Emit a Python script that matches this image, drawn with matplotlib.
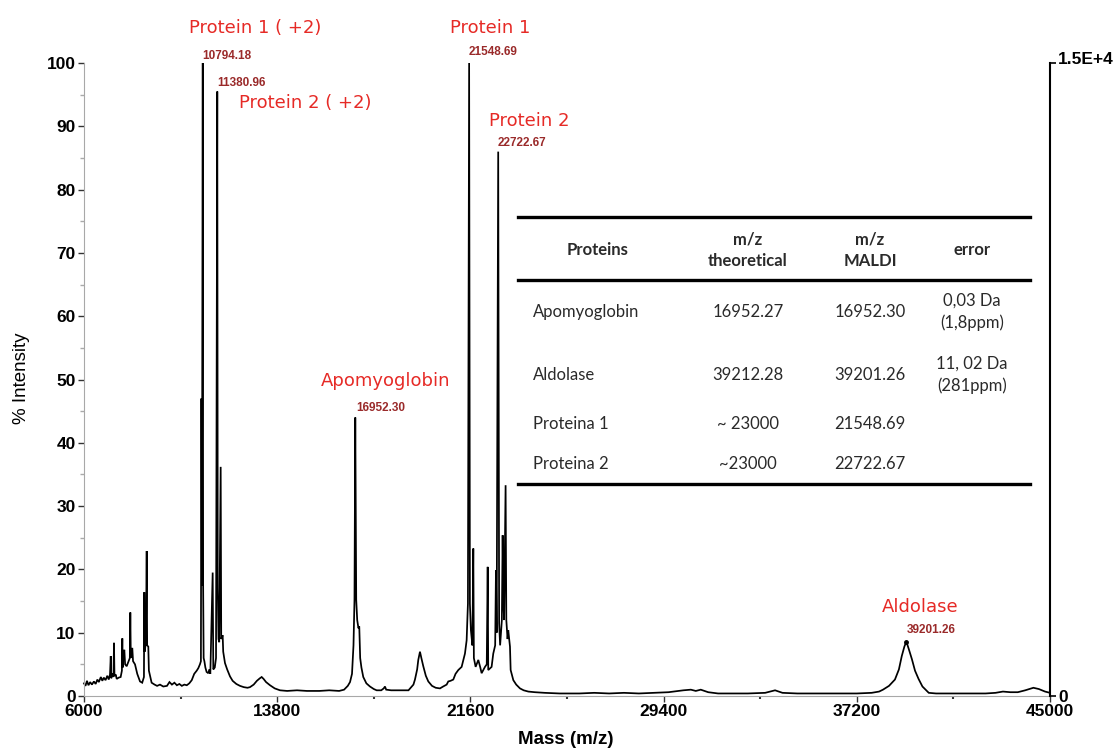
import matplotlib
matplotlib.use("Agg")
import matplotlib.pyplot as plt
import numpy as np
from matplotlib.lines import Line2D
from matplotlib.ticker import FixedLocator
from matplotlib.transforms import ScaledTranslation

# ---------------- data ----------------
mass_mz = [
    6000, 6060, 6120, 6180, 6250, 6320, 6400, 6470, 6540, 6600, 6680, 6740, 6800, 6870, 6940,
    7000, 7050, 7080, 7100, 7150, 7190, 7211, 7230, 7280, 7320, 7400, 7480, 7530, 7547, 7560,
    7600, 7628, 7660, 7723, 7800, 7850, 7870, 7890, 7950, 7980, 8059, 8150, 8261, 8350, 8420,
    8435, 8450, 8500, 8531, 8550, 8596, 8620, 8730, 8850, 8950, 9068, 9200, 9350, 9450, 9550,
    9650, 9750, 9850, 9950, 10050, 10150, 10250, 10350, 10450, 10550, 10615, 10680, 10720, 10740, 10760,
    10794.18, 10810, 10830, 10860, 10900, 10950, 11018, 11060, 11100, 11195, 11220, 11280, 11330, 11380.96, 11400,
    11430, 11460, 11518, 11540, 11598, 11620, 11692, 11780, 11894, 12000, 12150, 12298, 12450, 12600, 12701,
    12850, 12980, 13100, 13173, 13250, 13350, 13509, 13700, 13913, 14200, 14600, 15000, 15500, 15900, 16300,
    16500, 16650, 16740, 16820, 16880, 16920, 16952.30, 16990, 17030, 17080, 17113, 17150, 17200, 17275, 17400,
    17545, 17700, 17815, 18000, 18100, 18151, 18200, 18400, 18800, 19100, 19300, 19362, 19450, 19496, 19564,
    19620, 19698, 19800, 19900, 20050, 20200, 20372, 20500, 20641, 20707, 20800, 20909, 21000, 21111, 21246,
    21380, 21448, 21500, 21548.69, 21580, 21620, 21680, 21717, 21740, 21811, 21919, 22000, 22053, 22188, 22260,
    22298, 22320, 22456, 22523, 22600, 22632, 22660, 22722.67, 22760, 22800, 22834, 22870, 22902, 22930, 22960,
    23021, 23050, 23100, 23128, 23198, 23225, 23333, 23450, 23602, 23750, 23939, 24200, 24600, 25200, 26000,
    26600, 27200, 27800, 28400, 29000, 29600, 30200, 30500, 30700, 30900, 31200, 31600, 32200, 32800, 33500,
    33900, 34200, 34800, 35600, 36400, 37200, 37800, 38100, 38257, 38500, 38740, 38900, 39015, 39120, 39201.26,
    39300, 39426, 39550, 39693, 39850, 40105, 40400, 41000, 41800, 42400, 42800, 43100, 43400, 43700, 44000,
    44330, 44550, 44800, 45000,
]
intensity_pct = [
    2.0, 1.6, 2.4, 1.7, 2.2, 1.8, 2.3, 1.9, 2.6, 2.2, 3.0, 2.4, 2.9, 2.5, 3.2,
    2.6, 3.4, 6.3, 2.8, 3.6, 3.0, 8.4, 3.2, 3.4, 2.7, 2.9, 3.0, 4.0, 9.1, 4.5,
    6.8, 7.3, 5.0, 4.7, 5.5, 6.0, 13.2, 6.0, 7.6, 5.5, 5.0, 3.5, 2.3, 2.1, 3.0,
    16.4, 7.0, 8.5, 22.9, 8.0, 7.8, 4.0, 2.1, 1.8, 1.6, 1.8, 1.5, 1.6, 2.2, 1.8,
    2.1, 1.7, 1.9, 1.6, 1.8, 1.7, 2.0, 2.5, 3.5, 4.0, 4.4, 5.0, 5.5, 47.0, 17.5,
    100.0, 17.5, 6.0, 5.5, 4.5, 3.8, 3.6, 4.2, 3.5, 19.5, 4.2, 4.5, 6.0, 95.5, 17.0,
    9.0, 8.5, 36.2, 9.0, 9.6, 7.0, 5.2, 4.2, 3.1, 2.4, 1.9, 1.6, 1.4, 1.3, 1.4,
    1.8, 2.4, 2.8, 3.0, 2.7, 2.2, 1.7, 1.2, 0.9, 0.8, 0.9, 0.8, 0.8, 0.9, 0.8,
    1.0, 1.6, 2.2, 3.5, 8.0, 15.2, 44.0, 15.2, 12.0, 10.7, 11.0, 6.0, 4.5, 3.0, 2.0,
    1.5, 1.1, 0.9, 0.9, 1.2, 1.5, 1.0, 0.9, 0.9, 0.9, 1.8, 2.6, 4.2, 5.7, 7.0,
    6.0, 4.7, 3.2, 2.3, 1.6, 1.3, 1.2, 1.5, 1.8, 2.3, 2.4, 2.6, 3.5, 4.1, 4.6,
    6.7, 8.8, 14.6, 100.0, 14.6, 10.4, 8.0, 23.3, 6.0, 4.6, 5.7, 4.5, 3.6, 4.6, 5.0,
    20.4, 4.1, 4.6, 6.7, 8.0, 19.9, 10.0, 86.0, 11.5, 8.0, 9.9, 12.0, 25.4, 15.0, 12.0,
    33.3, 12.0, 9.0, 10.4, 7.8, 4.1, 2.5, 1.8, 1.2, 0.9, 0.7, 0.6, 0.5, 0.4, 0.4,
    0.5, 0.4, 0.5, 0.4, 0.5, 0.6, 0.9, 1.0, 0.8, 1.0, 0.6, 0.4, 0.4, 0.4, 0.5,
    0.9, 0.5, 0.4, 0.4, 0.4, 0.4, 0.5, 0.7, 1.0, 1.6, 2.6, 4.2, 6.3, 7.8, 8.6,
    7.4, 5.8, 4.0, 2.7, 1.5, 0.5, 0.4, 0.4, 0.4, 0.4, 0.5, 0.7, 0.6, 0.6, 0.9,
    1.3, 1.1, 0.7, 0.5,
]

peak_mz = [10794.18, 11380.96, 16952.30, 21548.69, 22722.67, 39201.26]
peak_value_labels = ["10794.18", "11380.96", "16952.30", "21548.69", "22722.67", "39201.26"]
peak_names = ["Protein 1 ( +2)", "Protein 2 ( +2)", "Apomyoglobin", "Protein 1", "Protein 2", "Aldolase"]

x_ticks = [6000, 13800, 21600, 29400, 37200, 45000]
x_minor_ticks = [9900, 17700, 25500, 33300, 41100]
y_ticks = [0, 10, 20, 30, 40, 50, 60, 70, 80, 90, 100]
y_minor_ticks = [5, 15, 25, 35, 45, 55, 65, 75, 85, 95]
right_ticks = [0, 15000]
right_tick_labels = ["0", "1.5E+4"]

table_header = ["Proteins", "m/z\ntheoretical", "m/z\nMALDI", "error"]
table_proteins = ["Apomyoglobin", "Aldolase", "Proteina 1", "Proteina 2"]
table_theoretical = ["16952.27", "39212.28", "~ 23000", "~23000"]
table_maldi = ["16952.30", "39201.26", "21548.69", "22722.67"]
table_error = ["0,03 Da\n(1,8ppm)", "11, 02 Da\n(281ppm)", "", ""]

# ---------------- figure ----------------
W, H = 1117, 749
fig = plt.figure(figsize=(W / 100, H / 100), dpi=100)
fig.patch.set_facecolor("white")


def fp(x, y):
    return x / W, 1 - y / H


ax = fig.add_axes([84 / W, 53 / H, 966 / W, 633 / H])
ax.plot(mass_mz, intensity_pct, color="black", lw=1.25, clip_on=False, solid_joinstyle="miter")
ax.set_xlim(6000, 45000)
ax.set_ylim(0, 100)

for s in ["top", "right"]:
    ax.spines[s].set_visible(False)
ax.spines["left"].set_color("#a8a8a8")
ax.spines["bottom"].set_color("#a8a8a8")

ax.xaxis.set_major_locator(FixedLocator(x_ticks))
ax.xaxis.set_minor_locator(FixedLocator(x_minor_ticks))
ax.yaxis.set_major_locator(FixedLocator(y_ticks))
ax.yaxis.set_minor_locator(FixedLocator(y_minor_ticks))
ax.set_xticklabels([str(t) for t in x_ticks], fontsize=12.5, fontweight="bold", family="Liberation Sans")
ax.set_yticklabels([str(t) for t in y_ticks], fontsize=12.5, fontweight="bold", family="Liberation Sans")
ax.tick_params(axis="y", which="major", direction="out", length=4, width=1, color="#333333", pad=2)
ax.tick_params(axis="y", which="minor", direction="out", length=3, width=1, color="#aaaaaa")
ax.tick_params(axis="x", which="major", direction="out", length=4, width=1, color="#333333", pad=2)
ax.tick_params(axis="x", which="minor", direction="out", length=2, width=1.5, color="#333333")

ax2 = ax.twinx()
ax2.set_ylim(0, 15000)
ax2.set_yticks(right_ticks)
ax2.set_yticklabels(right_tick_labels, fontsize=12.5, fontweight="bold", family="Liberation Sans")
for s in ["top", "left", "bottom"]:
    ax2.spines[s].set_visible(False)
ax2.spines["right"].set_color("black")
ax2.spines["right"].set_linewidth(1.5)
ax2.tick_params(axis="y", direction="out", length=4, width=1.2, color="black", pad=2)
top_lbl = ax2.get_yticklabels()[-1]
top_lbl.set_transform(top_lbl.get_transform() + ScaledTranslation(0, 5 / 100, fig.dpi_scale_trans))

fig.text(*fp(566, 740), "Mass (m/z)", ha="center", va="center", fontsize=13.5,
         fontweight="bold", family="Liberation Sans")
fig.text(*fp(22, 378), "% Intensity", ha="center", va="center", rotation=90, fontsize=13.5,
         family="Liberation Sans")

# ---------------- peak labels ----------------
red = "#e62a26"
dark_red = "#9a2a2a"
name_offsets = [(52, 35), (88, -12), (30, 36), (21, 35), (31, 31), (14, 35)]
value_offsets = [(0, 7), (0, 8), (1, 9), (-1, 11), (-1, 9), (0, 12)]
for mz, vlab, name, no, vo in zip(peak_mz, peak_value_labels, peak_names, name_offsets, value_offsets):
    h = float(np.interp(mz, mass_mz, intensity_pct))
    ax.annotate(vlab, xy=(mz, h), xytext=vo, textcoords="offset pixels", ha="left", va="center",
                fontsize=8.5, fontweight="bold", color=dark_red, family="Liberation Sans",
                annotation_clip=False)
    ax.annotate(name, xy=(mz, h), xytext=no, textcoords="offset pixels", ha="center", va="center",
                fontsize=13, color=red, family="DejaVu Sans", annotation_clip=False)
ax.plot([peak_mz[-1]], [float(np.interp(peak_mz[-1], mass_mz, intensity_pct))], "o",
        color="black", ms=2.5)

# ---------------- table ----------------
tfont = dict(family="Lato", fontsize=12, color="#2a2a2a")
for y in [217, 280, 484]:
    x0, y0 = fp(518, y)
    x1, _ = fp(1030, y)
    fig.add_artist(Line2D([x0, x1], [y0, y0], color="black", lw=2.4))

col_x = [598, 748, 870, 972]
header_y = 250
for cx, txt in zip(col_x, table_header):
    fig.text(*fp(cx, header_y), txt, ha="center", va="center", fontweight="bold",
             linespacing=1.45, **tfont)

row_y = [312, 375, 424, 464]
for ry, p, th, md, er in zip(row_y, table_proteins, table_theoretical, table_maldi, table_error):
    fig.text(*fp(533, ry), p, ha="left", va="center", **tfont)
    fig.text(*fp(col_x[1], ry), th, ha="center", va="center", **tfont)
    fig.text(*fp(col_x[2], ry), md, ha="center", va="center", **tfont)
    if er:
        fig.text(*fp(col_x[3], ry), er, ha="center", va="center", linespacing=1.45, **tfont)

fig.savefig("out.png", dpi=100, facecolor="white")
